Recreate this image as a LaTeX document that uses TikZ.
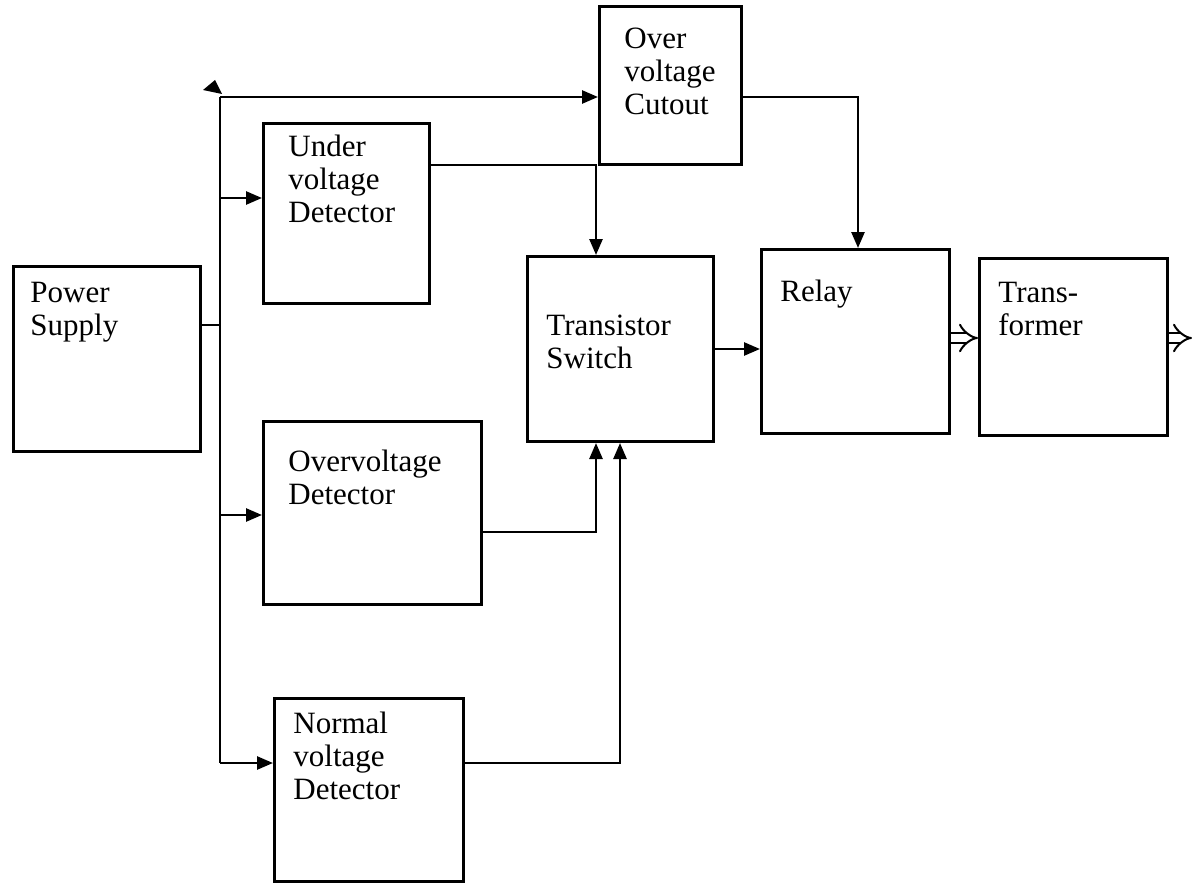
\documentclass[tikz,border=0pt]{standalone}
\usepackage{fontspec}
\setmainfont{Liberation Serif}
\usetikzlibrary{arrows.meta}
\begin{document}
\begin{tikzpicture}[x=0.5pt,y=-0.5pt,
  box/.style={draw, line width=1.5pt, inner sep=0pt, anchor=north west},
  txt/.style={anchor=north west, inner sep=0pt, align=left, font=\fontsize{15.5}{16.5}\selectfont},
  conn/.style={line width=1.3pt},
  arr/.style={line width=1.3pt, -{Triangle[length=8pt,width=6.5pt]}},
  dbl/.style={double, double distance=4pt, line width=1pt, -{Implies}}]
\useasboundingbox (0,0) rectangle (1192,882);
% boxes
\node[box, minimum width=93.5pt, minimum height=92.5pt] (ps) at (12,265) {};
\node[box, minimum width=83pt, minimum height=90pt] (uv) at (262,122) {};
\node[box, minimum width=109pt, minimum height=91.5pt] (ov) at (262,420) {};
\node[box, minimum width=94.5pt, minimum height=91.5pt] (nv) at (273,697) {};
\node[box, minimum width=71pt, minimum height=79pt] (oc) at (598,5) {};
\node[box, minimum width=93pt, minimum height=92.5pt] (ts) at (526,255) {};
\node[box, minimum width=94pt, minimum height=92pt] (re) at (760,248) {};
\node[box, minimum width=94pt, minimum height=88.5pt] (tr) at (978,257) {};
% texts
\node[txt] at (30,282) {Power\\Supply};
\node[txt] at (288,135) {Under\\voltage\\Detector};
\node[txt] at (624,28) {Over\\voltage\\Cutout};
\node[txt] at (546,315) {Transistor\\Switch};
\node[txt] at (780,280) {Relay};
\node[txt] at (998,282) {Trans-\\former};
\node[txt] at (288,450) {Overvoltage\\Detector};
\node[txt] at (293,712) {Normal\\voltage\\Detector};
% bus
\coordinate (jtop) at (220,97);
\coordinate (jps) at (220,325);
\coordinate (juv) at (220,198);
\coordinate (jov) at (220,515);
\coordinate (jnv) at (220,763);
\draw[conn] (jtop) -- (jnv);
\draw[conn] (ps.east |- jps) -- (jps);
\fill (203,90) -- (215,80) -- (222,94) -- cycle;
\draw[arr] (juv) -- (uv.west |- juv);
\draw[arr] (jov) -- (ov.west |- jov);
\draw[arr] (jnv) -- (nv.west |- jnv);
\draw[arr] (jtop) -- (oc.west |- jtop);
% to transistor switch
\coordinate (kuv) at (596,165);
\coordinate (kov) at (596,532);
\coordinate (knv) at (620,763);
\draw[arr] (uv.east |- kuv) -- (kuv) -- (kuv |- ts.north);
\draw[arr] (ov.east |- kov) -- (kov) -- (kov |- ts.south);
\draw[arr] (nv.east |- knv) -- (knv) -- (knv |- ts.south);
% to relay
\coordinate (kts) at (712,349);
\draw[arr] (ts.east |- kts) -- (re.west |- kts);
\coordinate (koc) at (858,97);
\draw[arr] (oc.east |- koc) -- (koc) -- (koc |- re.north);
% double arrows
\coordinate (kre) at (948,338);
\coordinate (kout) at (1192,338);
\draw[dbl] (re.east |- kre) -- (tr.west |- kre);
\draw[dbl] (tr.east |- kout) -- (kout);
\end{tikzpicture}
\end{document}
